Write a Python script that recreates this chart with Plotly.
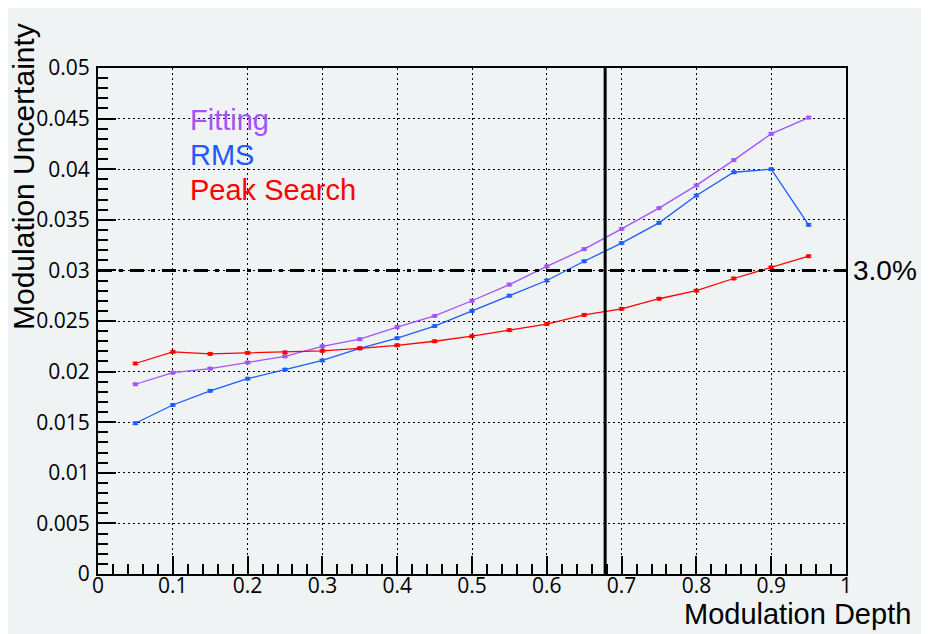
import plotly.graph_objects as go

depth = [0.05, 0.10, 0.15, 0.20, 0.25, 0.30, 0.35, 0.40, 0.45, 0.50,
         0.55, 0.60, 0.65, 0.70, 0.75, 0.80, 0.85, 0.90, 0.95]
fitting = [0.01875, 0.01990, 0.02030, 0.02090, 0.02150, 0.02250, 0.02320, 0.02440, 0.02550, 0.02700,
           0.02860, 0.03040, 0.03210, 0.03410, 0.03615, 0.03840, 0.04090, 0.04350, 0.04510]
rms = [0.01490, 0.01670, 0.01810, 0.01930, 0.02020, 0.02110, 0.02230, 0.02330, 0.02450, 0.02600,
       0.02750, 0.02900, 0.03090, 0.03270, 0.03470, 0.03740, 0.03970, 0.04000, 0.03450]
peak = [0.02080, 0.02195, 0.02175, 0.02185, 0.02190, 0.02205, 0.02230, 0.02260, 0.02300, 0.02350,
        0.02410, 0.02470, 0.02560, 0.02620, 0.02720, 0.02800, 0.02920, 0.03030, 0.03140]
err_fit = [0.0001] * len(depth)
err_rms = [0.0001] * len(depth)
err_peak = [0.0001] * len(depth)

threshold = 0.03
threshold_label = "3.0%"
cut_depth = 0.678

series = [
    ("Fitting", fitting, err_fit, "#a352ff"),
    ("RMS", rms, err_rms, "#1f5bff"),
    ("Peak Search", peak, err_peak, "#ff0000"),
]

BG = "#eff3f3"
OFF = 8  # page body margin
W, H = 929, 634 - OFF
L, T = 98 - OFF, 68 - OFF
R = W - (846 - OFF)
B = H - (574 - OFF)
PW, PH = W - L - R, H - T - B


def px_x(p):
    return (p - OFF - L) / PW


def px_y(p):
    return (H - B - (p - OFF)) / PH


fig = go.Figure()
for name, vals, errs, col in series:
    fig.add_trace(go.Scatter(
        x=depth, y=vals, mode="lines+markers", name=name,
        line=dict(color=col, width=1.3),
        marker=dict(color=col, size=4, symbol="square"),
        error_y=dict(type="data", array=errs, color=col, thickness=1, width=3),
        showlegend=False,
    ))

shapes = [
    dict(type="line", xref="x", yref="y", x0=0, x1=1, y0=threshold, y1=threshold,
         line=dict(color="black", width=3, dash="14px,7px,4px,7px")),
    dict(type="line", xref="x", yref="y", x0=cut_depth, x1=cut_depth, y0=0, y1=0.05,
         line=dict(color="black", width=3)),
]

annotations = [
    dict(text="Modulation Depth", xref="paper", yref="paper", x=px_x(913), y=px_y(614),
         xanchor="right", yanchor="middle", showarrow=False,
         font=dict(family="Liberation Sans", size=29, color="black")),
    dict(text="Modulation Uncertainty", xref="paper", yref="paper", x=px_x(23), y=px_y(177),
         xanchor="center", yanchor="middle", textangle=-90, showarrow=False,
         font=dict(family="Liberation Sans", size=30, color="black")),
    dict(text=threshold_label, xref="paper", yref="y", x=px_x(851), y=threshold,
         xanchor="left", yanchor="middle", showarrow=False,
         font=dict(family="Liberation Sans", size=28, color="black")),
]
for (name, vals, errs, col), ypix in zip(series, [120, 155, 190]):
    annotations.append(dict(text=name, xref="paper", yref="paper", x=px_x(188), y=px_y(ypix),
                            xanchor="left", yanchor="middle", showarrow=False,
                            font=dict(family="Liberation Sans", size=29, color=col)))

axis_common = dict(
    showline=True, linecolor="black", linewidth=2, mirror=True,
    ticks="inside", ticklen=18, tickwidth=1.5, tickcolor="black",
    showgrid=True, gridcolor="black", gridwidth=1, griddash="2px,3px",
    zeroline=False,
    tickfont=dict(family="Open Sans", size=21, color="black"),
)

fig.update_layout(
    width=W, height=H,
    margin=dict(l=L, r=R, t=T, b=B),
    paper_bgcolor=BG, plot_bgcolor=BG,
    shapes=shapes, annotations=annotations,
    xaxis=dict(range=[0, 1], dtick=0.1, tick0=0, ticklabelstandoff=-8,
               minor=dict(dtick=0.02, ticks="inside", ticklen=10, tickcolor="black", showgrid=False),
               **axis_common),
    yaxis=dict(range=[0, 0.05], dtick=0.005, tick0=0, ticklabelstandoff=2,
               minor=dict(dtick=0.001, ticks="inside", ticklen=10, tickcolor="black", showgrid=False),
               **axis_common),
)

fig.write_html("out.html")
